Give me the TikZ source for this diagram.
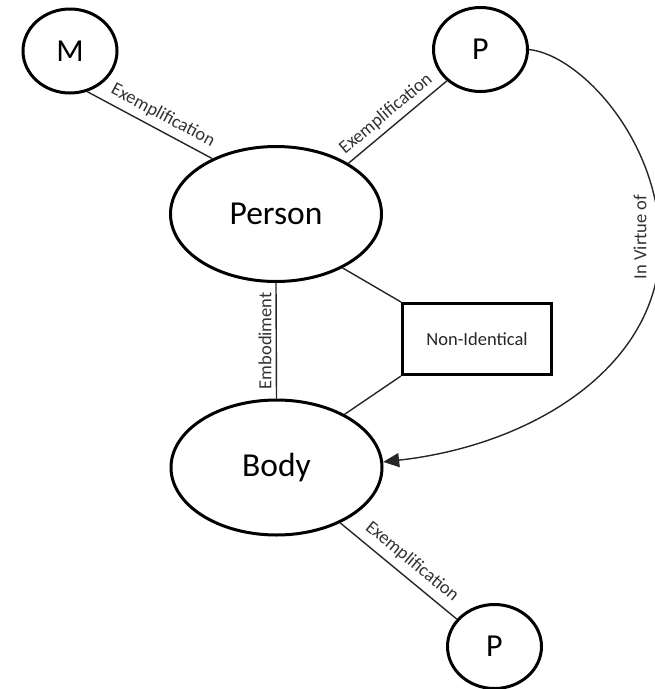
\documentclass[tikz,border=0pt]{standalone}
\usepackage{fontspec}
\setmainfont{Carlito}
\usetikzlibrary{shapes.geometric,arrows.meta}

\begin{document}
\begin{tikzpicture}[x=1pt,y=-1pt,
  bigellipse/.style={ellipse, draw, line width=3pt, inner sep=0pt,
    minimum width=211pt, minimum height=135pt, font=\fontsize{33.5}{40}\selectfont},
  smallellipse/.style={ellipse, draw, line width=3pt, inner sep=0pt,
    minimum width=94pt, minimum height=84pt, font=\fontsize{32}{38}\selectfont},
  relbox/.style={rectangle, draw, line width=3pt, inner sep=0pt,
    minimum width=149pt, minimum height=71pt, font=\fontsize{18.5}{22}\selectfont, text=black!85},
  link/.style={draw=black!85, line width=1.4pt},
  lbl/.style={font=\fontsize{18.5}{22}\selectfont, text=black!80, inner sep=2pt}]

\useasboundingbox (0,0) rectangle (655,689);

% main concepts
\node[bigellipse] (person) at (276,214) {Person};
\node[bigellipse] (body) at (276.5,467.5) {Body};

% properties
\node[smallellipse] (m) at (70,51) {M};
\node[smallellipse] (ptop) at (480.5,49.5) {P};
\node[smallellipse] (pbot) at (494.5,646.5) {P};

% relation box
\node[relbox] (nonid) at (477,339) {Non-Identical};

% exemplification links
\draw[link] (m.-67) -- node[lbl, sloped, above=4pt, pos=0.55] {Exemplification} (person.139);
\draw[link] (person.35.5) -- node[lbl, sloped, above=3pt, pos=0.47] {Exemplification} (ptop.-137.5);
\draw[link] (body.-41.8) -- node[lbl, sloped, above=5pt, pos=0.53] {Exemplification} (pbot.144);

% embodiment, label set upright along the left side of the link
\draw[link] (body.north) -- node[lbl, rotate=90, anchor=south, inner sep=4pt] {Embodiment} (person.south);

% non-identity
\draw[link] (person.-39) -- (nonid.north west);
\draw[link] (nonid.south west) -- (body.38.8);

% in virtue of
\coordinate (bend) at (660,245);
\draw[link, -{Triangle[length=16pt,width=14pt]}]
  (ptop.east) .. controls (580,55) and (660,140) .. (bend)
  .. controls (660,365) and (535,445) .. (body.3);
\node[lbl, rotate=90] (virtue) at (640,237) {In Virtue of};

\end{tikzpicture}
\end{document}
